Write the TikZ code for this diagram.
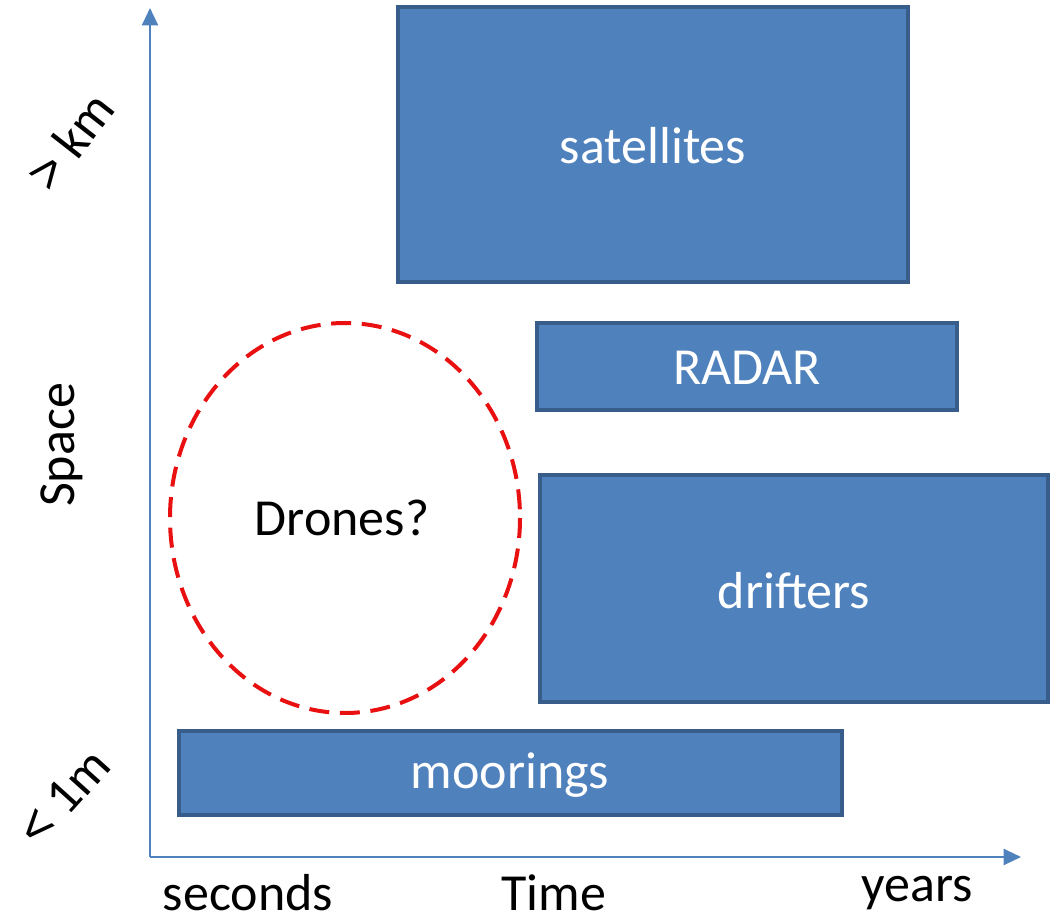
\documentclass[tikz,border=0pt]{standalone}
\usepackage{fontspec}
\setmainfont{Carlito}
\newfontfamily\chevfont{Liberation Sans}
\usetikzlibrary{arrows.meta}
\definecolor{boxfill}{HTML}{4F81BD}
\definecolor{boxline}{HTML}{385D8A}
\definecolor{dronered}{HTML}{E81010}
\begin{document}
\begin{tikzpicture}[x=0.75pt,y=-0.75pt,
  inst/.style={draw=boxline,fill=boxfill,line width=2.4pt},
  instlabel/.style={text=white,font=\fontsize{39}{46}\selectfont},
  axislabel/.style={text=black,font=\fontsize{39}{46}\selectfont},
  axis/.style={draw=boxfill,line width=1.6pt,-{Triangle[length=13pt,width=12pt]}}]
\useasboundingbox (0,0) rectangle (1056,923);
% instruments
\draw[inst] (398,7) rectangle (908,282);
\node[instlabel] (sat) at (653,146) {satellites};
\draw[inst] (537,323) rectangle (957,410);
\node[instlabel] (radar) at (747,368) {RADAR};
\draw[inst] (540,475) rectangle (1048,702);
\node[instlabel] (drift) at (794,591) {drifters};
\draw[inst] (179,731) rectangle (842,815);
\node[instlabel] (moor) at (510,775) {moorings};
% drones ellipse
\draw[dronered,line width=3pt,dash pattern=on 15pt off 8pt] (345,518) ellipse [x radius=175,y radius=195];
\node[axislabel] (drones) at (342,518) {Drones?};
% axes
\coordinate (origin) at (150,857);
\coordinate (ytip) at (150,8);
\coordinate (xtip) at (1021,857);
\draw[axis] (origin) -- (ytip);
\draw[axis] (origin) -- (xtip);
% axis labels
\node[axislabel,rotate=90] (space) at (62,445) {Space};
\node[axislabel,rotate=52,inner sep=0pt] (km) at (70,141) {{\chevfont >} km};
\node[axislabel,rotate=48,inner sep=0pt] (onem) at (64,797) {{\chevfont <} 1m};
\node[axislabel,inner sep=1pt] (sec) at (248,893) {seconds};
\node[axislabel,inner sep=1pt] (time) at (554,893) {Time};
\node[axislabel,inner sep=1pt] (years) at (917,893) {years};
\end{tikzpicture}
\end{document}
